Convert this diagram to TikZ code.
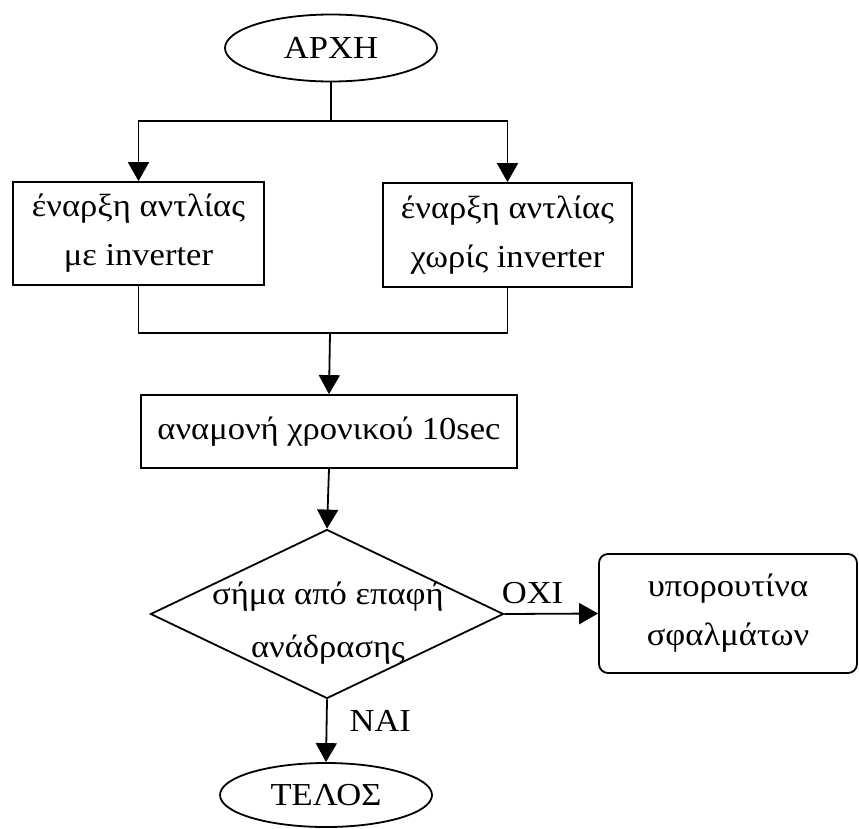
\documentclass[tikz,border=0pt]{standalone}
\usepackage{fontspec}
\setmainfont[FakeStretch=1.08]{Liberation Serif}
\usetikzlibrary{shapes.geometric,arrows.meta}

\tikzset{
  every node/.style={font=\fontsize{32}{49}\selectfont},
  line/.style={line width=1.8pt, draw=black},
  arr/.style={line, -{Triangle[length=19pt,width=21pt]}},
  terminal/.style={ellipse, line, minimum width=212pt, minimum height=67pt, inner sep=0pt},
  procbox/.style={rectangle, line, align=center, inner sep=0pt},
  decision/.style={diamond, line, minimum width=353pt, minimum height=169pt, inner sep=0pt},
  subbox/.style={rectangle, rounded corners=9pt, line, align=center, inner sep=0pt},
  tag/.style={inner sep=0pt}
}

\begin{document}
\begin{tikzpicture}[x=1pt, y=-1pt]
  \useasboundingbox (0,0) rectangle (859,828);

  % start
  \node[terminal] (start) at (331,48) {ΑΡΧΗ};

  % the two pump start variants
  \node[procbox, minimum width=251pt, minimum height=103pt] (inv) at (138.5,233.5)
    {έναρξη αντλίας\\με inverter};
  \node[procbox, minimum width=249pt, minimum height=104pt] (noinv) at (507.5,235)
    {έναρξη αντλίας\\χωρίς inverter};

  % delay
  \node[procbox, minimum width=376pt, minimum height=73pt] (wait) at (329,431.5)
    {αναμονή χρονικού 10sec};

  % feedback check
  \node[decision] (check) at (327,614) {};
  \node[tag, align=center, font=\fontsize{32}{53}\selectfont] (checktext) at (328,623)
    {σήμα από επαφή\\ανάδρασης};

  % error subroutine
  \node[subbox, minimum width=258pt, minimum height=119pt] (err) at (728,613.5)
    {υπορουτίνα\\σφαλμάτων};

  % end
  \node[terminal, minimum height=64pt] (finish) at (326,795) {ΤΕΛΟΣ};

  % split after start
  \coordinate (split) at (331,121);
  \draw[line] (start.south) -- (split);
  \draw[arr] (split) -| (inv.north);
  \draw[arr] (split) -| (noinv.north);

  % merge before delay
  \coordinate (merge) at (330,333);
  \draw[line] (inv.south) |- (merge) -| (noinv.south);
  \draw[arr] (merge) -- (wait.north);

  \draw[arr] (wait.south) -- (check.north);

  \draw[arr] (check.east) -- node[tag, pos=0.3, above=9pt] (no) {ΟΧΙ} (err.west);
  \draw[arr] (check.south) -- node[tag, pos=0.35, right=22pt] (yes) {ΝΑΙ} (finish.north);
\end{tikzpicture}
\end{document}
